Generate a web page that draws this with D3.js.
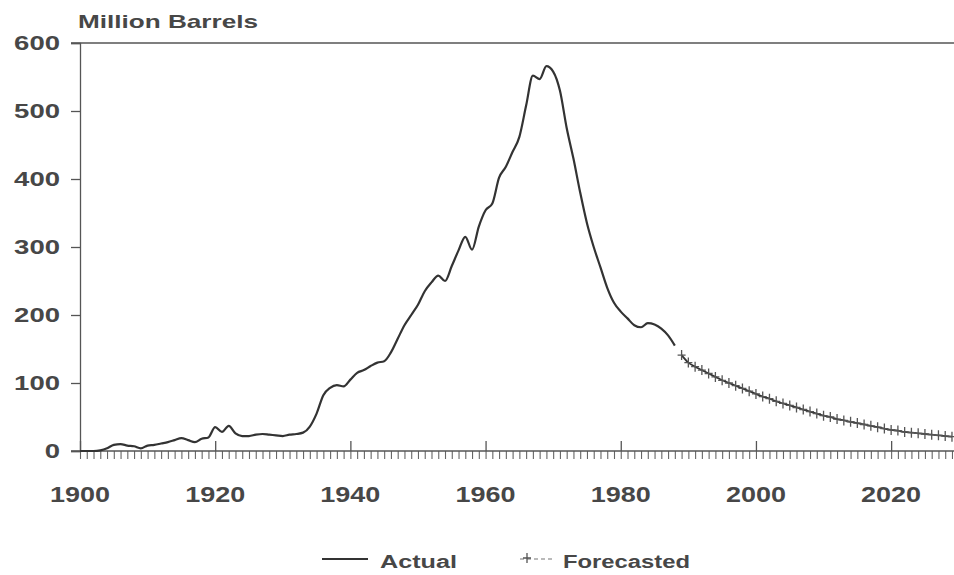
<!DOCTYPE html>
<html>
<head>
<meta charset="utf-8">
<script src="https://cdn.jsdelivr.net/npm/d3@7"></script>
<style>
  body { margin: 0; background: #fff; }
  text { font-family: "Liberation Sans", Arial, sans-serif; font-weight: bold; fill: #474747; }
</style>
</head>
<body>
<div id="chart"></div>
<script>
// actual production, million barrels per year, 1900-1988
var actualYears = d3.range(1900, 1989);
var actualValues = [
  0, 0, 0, 1, 4, 9, 10, 8, 7, 4,
  8, 9, 11, 13, 16, 19, 16, 13, 18, 20,
  35, 28, 37, 26, 22, 22, 24, 25, 24, 23,
  22, 24, 25, 27, 36, 55, 82, 93, 97, 95,
  105, 115, 119, 125, 130, 132, 145, 165, 185, 200,
  215, 235, 248, 258, 250, 272, 295, 315, 296, 330,
  354, 364, 402, 418, 440, 462, 508, 552, 547, 566,
  558, 530, 475, 430, 380, 335, 300, 270, 240, 218,
  205, 195, 185, 182, 188, 186, 180, 170, 155
];

// forecasted production, 1989-2029
var forecastYears = d3.range(1989, 2030);
var forecastValues = [
  141, 130, 124, 119, 114, 109, 104, 100, 96, 92,
  88, 84, 80, 77, 73, 70, 67, 64, 61, 58,
  55, 52, 50, 47, 45, 43, 41, 39, 37, 35,
  33, 31, 30, 28, 27, 26, 25, 24, 23, 22, 21
];

var yTicks = [0, 100, 200, 300, 400, 500, 600];
var xTicks = [1900, 1920, 1940, 1960, 1980, 2000, 2020];
var yLabel = "Million Barrels";
var legendLabels = ["Actual", "Forecasted"];

var width = 954, height = 575;
var ink = "#333";

var svg = d3.select("#chart").append("svg")
    .attr("width", width)
    .attr("height", height);

var x = d3.scaleLinear().domain([1900, 2029.3]).range([80, 954]);
var y = d3.scaleLinear().domain([0, 600]).range([451, 43]);

// the scanned lettering is wide, so stretch glyphs to a set width
function widen(sel, perChar) {
  sel.attr("textLength", function() { return this.textContent.length * perChar; })
     .attr("lengthAdjust", "spacingAndGlyphs");
}

// top frame line
svg.append("line")
    .attr("x1", 71).attr("x2", width)
    .attr("y1", y(600)).attr("y2", y(600))
    .attr("stroke", "#555").attr("stroke-width", 1.5);

// y axis
var yAxis = svg.append("g")
    .attr("transform", "translate(80,0)")
    .call(d3.axisLeft(y).tickValues(yTicks).tickSize(9).tickPadding(11));
yAxis.select(".domain").attr("stroke", "#555").attr("stroke-width", 1.3);
yAxis.selectAll(".tick line").attr("stroke", "#555").attr("stroke-width", 1.3);
yAxis.selectAll(".tick text")
    .style("font-size", "21px")
    .attr("fill", "#474747")
    .call(widen, 15.3);

// x axis: yearly minor ticks below, major ticks up
var xAxis = svg.append("g")
    .attr("transform", "translate(0," + y(0) + ")")
    .call(d3.axisBottom(x).tickValues(d3.range(1900, 2030)).tickSize(8).tickFormat(""));
xAxis.select(".domain").remove();
xAxis.selectAll(".tick line").attr("stroke", "#666").attr("stroke-width", 1.1);

svg.append("line")
    .attr("x1", 71).attr("x2", width)
    .attr("y1", y(0)).attr("y2", y(0))
    .attr("stroke", "#555").attr("stroke-width", 1.5);

var majors = svg.append("g")
    .attr("transform", "translate(0," + y(0) + ")")
    .call(d3.axisTop(x).tickValues(xTicks).tickSize(10).tickFormat(""));
majors.select(".domain").remove();
majors.selectAll(".tick line").attr("stroke", "#555").attr("stroke-width", 1.3);

svg.append("g").selectAll("text")
    .data(xTicks)
    .enter().append("text")
    .attr("x", function(d) { return x(d); })
    .attr("y", 502)
    .attr("text-anchor", "middle")
    .style("font-size", "22px")
    .text(function(d) { return d; })
    .call(widen, 15);

// y label
svg.append("text")
    .attr("x", 78).attr("y", 28)
    .style("font-size", "18.5px")
    .text(yLabel)
    .attr("textLength", 180)
    .attr("lengthAdjust", "spacingAndGlyphs");

// actual line
var actual = actualYears.map(function(d, i) { return [d, actualValues[i]]; });
var forecast = forecastYears.map(function(d, i) { return [d, forecastValues[i]]; });

var line = d3.line()
    .x(function(d) { return x(d[0]); })
    .y(function(d) { return y(d[1]); })
    .curve(d3.curveMonotoneX);

svg.append("path")
    .datum(actual)
    .attr("fill", "none")
    .attr("stroke", ink)
    .attr("stroke-width", 2.2)
    .attr("stroke-linejoin", "round")
    .attr("d", line);

// forecast line with + markers
svg.append("path")
    .datum(forecast)
    .attr("fill", "none")
    .attr("stroke", ink)
    .attr("stroke-width", 1.8)
    .attr("d", line);

var plus = "M-4,0H4M0,-5V5";
svg.append("g").selectAll("path")
    .data(forecast)
    .enter().append("path")
    .attr("transform", function(d) { return "translate(" + x(d[0]) + "," + y(d[1]) + ")"; })
    .attr("d", plus)
    .attr("stroke", "#555")
    .attr("stroke-width", 1.3);

// legend
var leg = svg.append("g");
leg.append("line")
    .attr("x1", 322).attr("x2", 368)
    .attr("y1", 559).attr("y2", 559)
    .attr("stroke", ink).attr("stroke-width", 1.8);
leg.append("text")
    .attr("x", 380).attr("y", 568)
    .style("font-size", "18px")
    .text(legendLabels[0])
    .attr("textLength", 77)
    .attr("lengthAdjust", "spacingAndGlyphs");
leg.append("line")
    .attr("x1", 520).attr("x2", 553)
    .attr("y1", 559).attr("y2", 559)
    .attr("stroke", "#777").attr("stroke-width", 1.1)
    .attr("stroke-dasharray", "4,3");
leg.append("path")
    .attr("transform", "translate(527,558)")
    .attr("d", plus)
    .attr("stroke", "#555").attr("stroke-width", 1.3);
leg.append("text")
    .attr("x", 563).attr("y", 568)
    .style("font-size", "18px")
    .text(legendLabels[1])
    .attr("textLength", 127)
    .attr("lengthAdjust", "spacingAndGlyphs");
</script>
</body>
</html>
